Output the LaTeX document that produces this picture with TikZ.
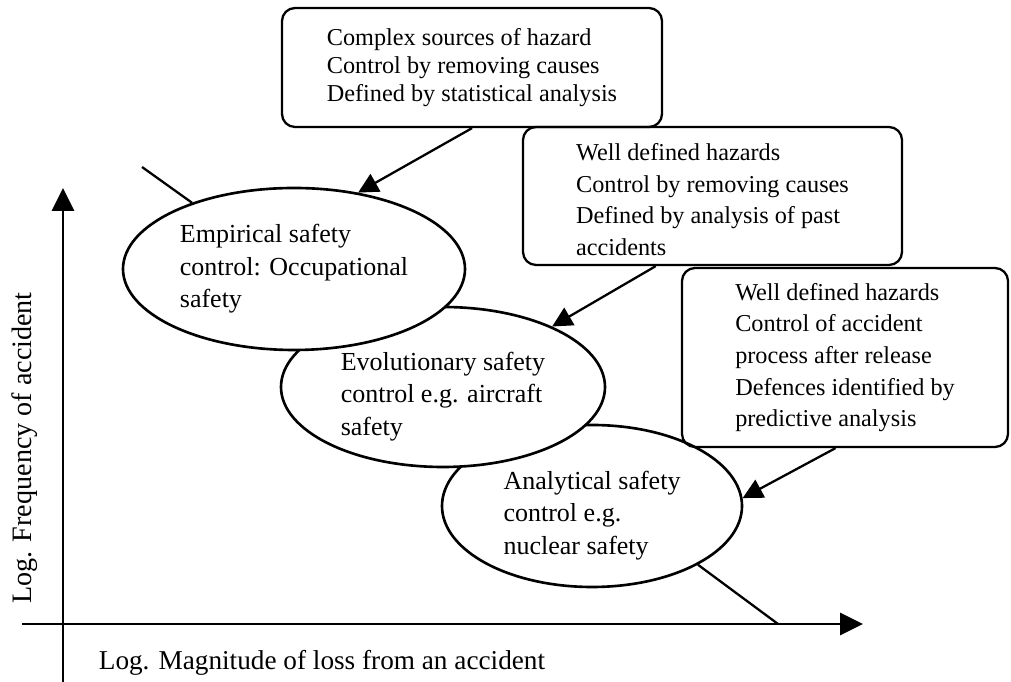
\documentclass[tikz,border=0pt]{standalone}
\usepackage{fontspec}
\setmainfont{Liberation Serif}
\usetikzlibrary{arrows.meta,shapes.geometric}

\begin{document}
\begin{tikzpicture}[x=1mm,y=1mm,
	zone/.style={draw,ellipse,fill=white,line width=1.5pt,inner sep=0pt,align=left,font=\fontsize{14.8}{18.5}\selectfont},
	infobox/.style={draw,rounded corners=2.6mm,line width=1.3pt,align=left,font=\fontsize{13.8}{18}\selectfont},
	pointer/.style={line width=1.3pt,-{Triangle[length=4mm,width=4mm]}},
	axis/.style={line width=1.7pt,-{Triangle[length=4.6mm,width=4.4mm]}}]
	\useasboundingbox (0,0) rectangle (202.2,136.4);
	% axes
	\draw[axis] (12.6,0) -- (12.6,98.8);
	\draw[axis] (4.4,11.6) -- (172.6,11.6);
	\node[rotate=90,font=\fontsize{16}{19}\selectfont] (ylabel) at (5,46.8) {Log. Frequency of accident};
	\node[font=\fontsize{15.5}{18}\selectfont] (xlabel) at (64.4,3.8) {Log. Magnitude of loss from an accident};
	% safety zones
	\node[zone,minimum width=60mm,minimum height=32.4mm] (analytical) at (118.4,35.2) {\rule{0pt}{21pt}Analytical safety\\control e.g.\\nuclear safety};
	\node[zone,minimum width=64.8mm,minimum height=32mm] (evolutionary) at (88.6,59) {\rule{0pt}{21pt}Evolutionary safety\\control e.g. aircraft\\safety};
	\node[zone,minimum width=68.4mm,minimum height=32.4mm] (empirical) at (58.8,82.6) {Empirical safety\\control: Occupational\\safety};
	% descriptions
	\node[infobox,font=\fontsize{13.8}{16}\selectfont,minimum width=76mm,minimum height=23.8mm] (complexbox) at (94.4,122.9) {Complex sources of hazard\\Control by removing causes\\Defined by statistical analysis};
	\node[infobox,minimum width=75.8mm,minimum height=27.6mm] (pastbox) at (142.5,97.2) {\rule{0pt}{14pt}Well defined hazards\\Control by removing causes\\Defined by analysis of past\\accidents};
	\node[infobox,minimum width=65.2mm,minimum height=35.8mm] (predictbox) at (169,64.9) {Well defined hazards\\Control of accident\\process after release\\Defences identified by\\predictive analysis};
	\draw[pointer] (complexbox.south) -- (empirical.50);
	\draw[pointer] (pastbox.231) -- (evolutionary.29);
	\draw[pointer] (predictbox.264) -- (analytical.3);
	% trend line
	\coordinate (trendtop) at (28.4,103);
	\coordinate (trendend) at (155.6,11.6);
	\draw[line width=1.3pt] (trendtop) -- (empirical.147);
	\draw[line width=1.3pt] (analytical.331) -- (trendend);
\end{tikzpicture}
\end{document}
